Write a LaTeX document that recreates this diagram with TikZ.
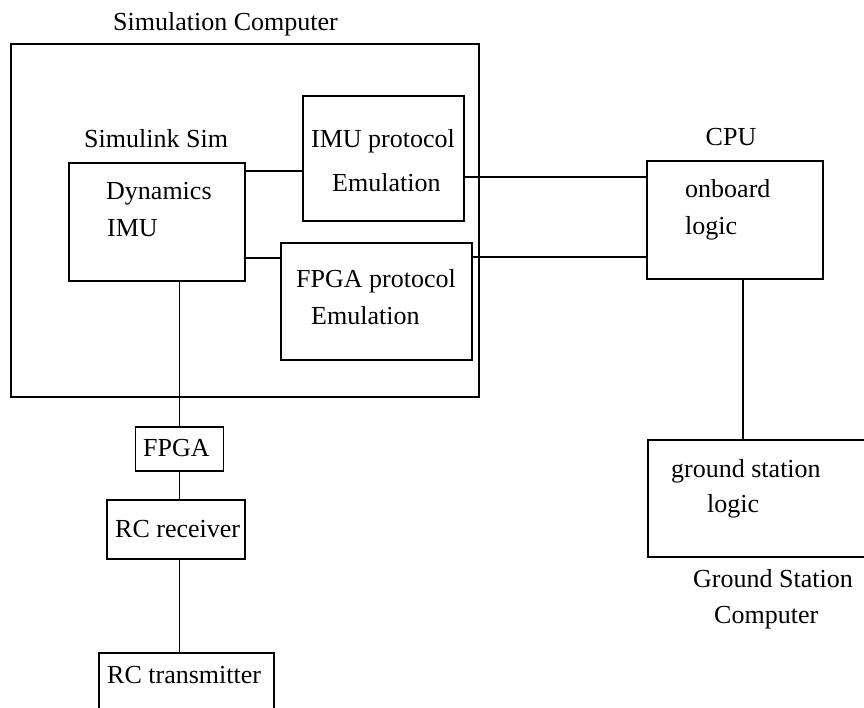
\documentclass[tikz,border=0pt]{standalone}
\usepackage{fontspec}
\setmainfont{Liberation Serif}
\begin{document}
\begin{tikzpicture}[x=1pt,y=-1pt,
  box/.style={draw, rectangle, line width=1.3pt, inner sep=0pt},
  txt/.style={anchor=base west, inner sep=0pt, font=\fontsize{26}{31}\selectfont},
  wire/.style={line width=1.3pt}]
\useasboundingbox (0,0) rectangle (864,708);
\fill[white] (0,0) rectangle (864,708);
\clip (0,0) rectangle (864,708);

% blocks
\node[box, minimum width=468pt, minimum height=353pt] (simcomp) at (245,220.5) {};
\node[box, minimum width=176pt, minimum height=118pt] (simsim) at (157,222) {};
\node[box, minimum width=161pt, minimum height=125pt] (imup) at (383.5,158.5) {};
\node[box, minimum width=191pt, minimum height=117pt] (fpgap) at (376.5,301.5) {};
\node[box, minimum width=176pt, minimum height=118pt] (cpu) at (735,220) {};
\node[box, minimum width=232pt, minimum height=117pt] (ground) at (764,498.5) {};
\node[box, minimum width=88pt, minimum height=44pt] (fpga) at (179.5,449) {};
\node[box, minimum width=138pt, minimum height=59pt] (rcrx) at (176,529.5) {};
\node[box, minimum width=175pt, minimum height=67pt] (rctx) at (186.5,686.5) {};

% labels
\node[txt] (tsimcomp) at (113,31) {Simulation Computer};
\node[txt] (tsimsim) at (84,148) {Simulink Sim};
\node[txt] (tdyn) at (106,200) {Dynamics};
\node[txt] (timu) at (107,237) {IMU};
\node[txt] (timup1) at (311,148) {IMU protocol};
\node[txt] (timup2) at (332,192) {Emulation};
\node[txt] (tfpgap1) at (296,288) {FPGA protocol};
\node[txt] (tfpgap2) at (311,325) {Emulation};
\node[txt, anchor=base] (tcpu) at (731,146) {CPU};
\node[txt] (tonb) at (685,198) {onboard};
\node[txt] (tlog) at (685,235) {logic};
\node[txt] (tgs1) at (671,477) {ground station};
\node[txt] (tgs2) at (707,512) {logic};
\node[txt] (tgsc1) at (693,587) {Ground Station};
\node[txt] (tgsc2) at (714,623) {Computer};
\node[txt] (tfpga) at (143,456) {FPGA};
\node[txt] (trcrx) at (115,537) {RC receiver};
\node[txt] (trctx) at (107,683) {RC transmitter};

% connector heights and columns
\coordinate (h1) at (0,171);
\coordinate (h2) at (0,258);
\coordinate (h3) at (0,177);
\coordinate (h4) at (0,257);
\coordinate (vx) at (179.5,0);
\coordinate (gx) at (743,0);

% connectors
\draw[wire] (simsim.east |- h1) -- (imup.west |- h1);
\draw[wire] (simsim.east |- h2) -- (fpgap.west |- h2);
\draw[wire] (imup.east |- h3) -- (cpu.west |- h3);
\draw[wire] (fpgap.east |- h4) -- (cpu.west |- h4);
\draw[wire] (simsim.south -| vx) -- (fpga.north -| vx);
\draw[wire] (fpga.south -| vx) -- (rcrx.north -| vx);
\draw[wire] (rcrx.south -| vx) -- (rctx.north -| vx);
\draw[wire] (cpu.south -| gx) -- (ground.north -| gx);
\end{tikzpicture}
\end{document}
